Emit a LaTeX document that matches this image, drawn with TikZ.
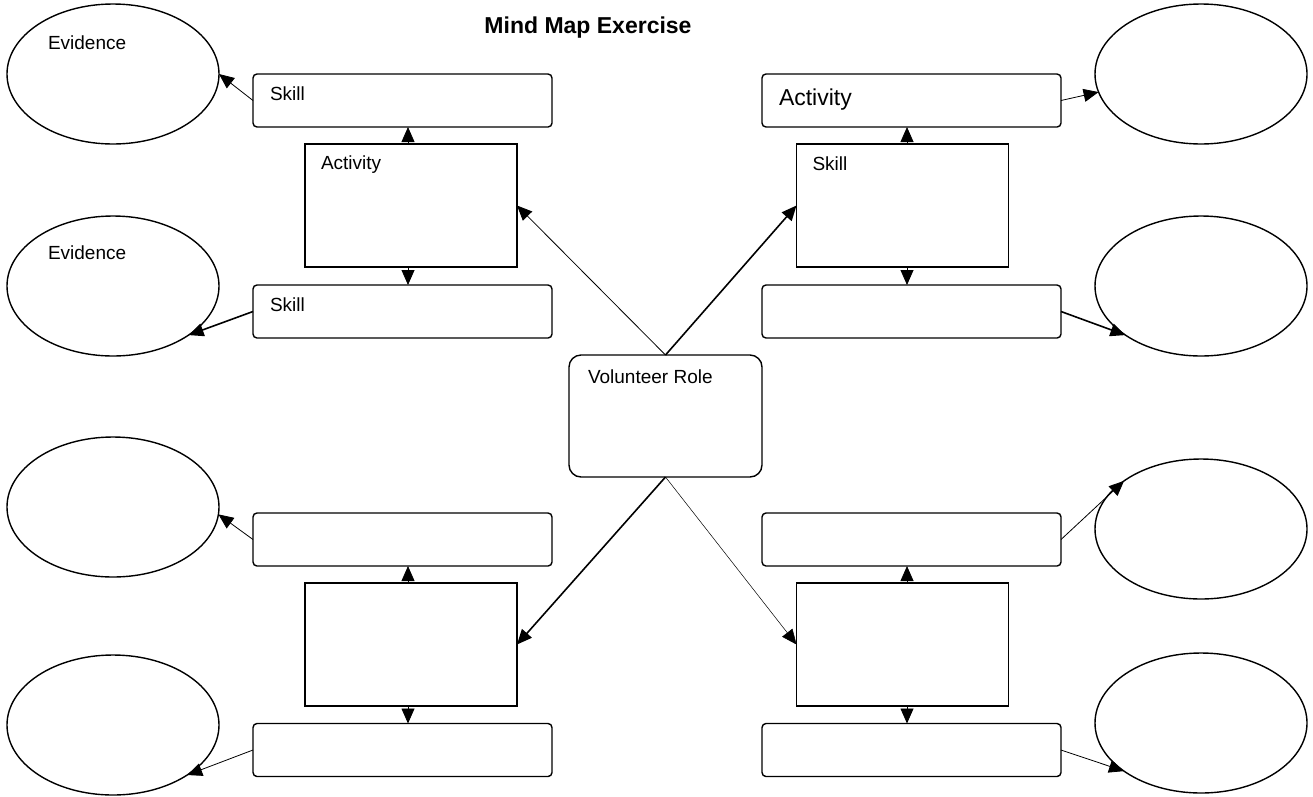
\documentclass[tikz,border=0pt]{standalone}
\usepackage{fontspec}
\setmainfont{Liberation Sans}
\usetikzlibrary{arrows.meta,shapes.geometric}
\begin{document}
\begin{tikzpicture}[x=1pt,y=-1pt,
  every node/.style={inner sep=0pt, outer sep=0pt},
  sbox/.style={draw, rounded corners=4pt, line width=1.4pt, minimum width=299pt, minimum height=53pt},
  arect/.style={draw, line width=1.6pt, minimum width=212pt, minimum height=123pt},
  ell/.style={draw, ellipse, line width=1.4pt, minimum width=212pt, minimum height=140pt},
  vrole/.style={draw, rounded corners=12pt, line width=1.4pt, minimum width=193pt, minimum height=122pt},
  txt/.style={font=\fontsize{19}{22}\selectfont, anchor=north west},
  bigtxt/.style={font=\fontsize{23}{26}\selectfont, anchor=north west},
  conn/.style={-{Triangle[length=15pt,width=13pt]}, line width=0.8pt},
  thick conn/.style={conn, line width=1.6pt},
  thin conn/.style={conn, line width=0.5pt}
]
\useasboundingbox (0,0) rectangle (1313,796);

\node[font=\fontsize{23}{26}\selectfont\bfseries, anchor=base] (title) at (588,33) {Mind Map Exercise};

% ellipses
\node[ell] (eTL) at (113,74) {};
\node[ell] (eL2) at (113,286) {};
\node[ell] (eL3) at (113,507) {};
\node[ell] (eL4) at (113,725) {};
\node[ell] (eTR) at (1201,74) {};
\node[ell] (eR2) at (1201,286) {};
\node[ell] (eR3) at (1201,529) {};
\node[ell] (eR4) at (1201,723) {};

% left top group
\node[sbox] (sTL) at (402.5,100.5) {};
\node[arect] (aL) at (411,205.5) {};
\node[sbox] (sL2) at (402.5,311.5) {};
% right top group
\node[sbox] (aTR) at (911.5,100.5) {};
\node[arect] (sR) at (902.5,205.5) {};
\node[sbox] (bR2) at (911.5,311.5) {};
% centre
\node[vrole] (vr) at (665.5,416) {};
% left bottom group
\node[sbox] (bL3) at (402.5,539.5) {};
\node[arect] (rL) at (411,644.5) {};
\node[sbox] (bL4) at (402.5,750) {};
% right bottom group
\node[sbox] (bR3) at (911.5,539.5) {};
\node[arect] (rR) at (902.5,644.5) {};
\node[sbox] (bR4) at (911.5,750) {};

% texts
\node[txt] (tEvTL) at ([xshift=-65pt,yshift=38pt]eTL.center) {Evidence};
\node[txt] (tEvL2) at ([xshift=-65pt,yshift=40pt]eL2.center) {Evidence};
\node[txt] (tSkTL) at ([xshift=17pt,yshift=-13pt]sTL.north west) {Skill};
\node[txt] (tAcL) at ([xshift=16pt,yshift=-12pt]aL.north west) {Activity};
\node[txt] (tSkL2) at ([xshift=17pt,yshift=-13pt]sL2.north west) {Skill};
\node[bigtxt] (tAcTR) at ([xshift=17pt,yshift=-15pt]aTR.north west) {Activity};
\node[txt] (tSkR) at ([xshift=16pt,yshift=-13pt]sR.north west) {Skill};
\node[txt] (tVR) at ([xshift=19pt,yshift=-15pt]vr.north west) {Volunteer Role};

% centre connectors
\draw[conn] (vr.north) -- (aL.east);
\draw[thick conn] (vr.north) -- (sR.west);
\draw[thick conn] (vr.south) -- (rL.east);
\draw[thin conn] (vr.south) -- (rR.west);

% vertical connectors
\draw[conn] ([xshift=-3pt]aL.north) -- ([xshift=-3pt]aL.north |- sTL.south);
\draw[conn] ([xshift=-3pt]aL.south) -- ([xshift=-3pt]aL.south |- sL2.north);
\draw[conn] ([xshift=4.5pt]sR.north) -- ([xshift=4.5pt]sR.north |- aTR.south);
\draw[conn] ([xshift=4.5pt]sR.south) -- ([xshift=4.5pt]sR.south |- bR2.north);
\draw[conn] ([xshift=-3pt]rL.north) -- ([xshift=-3pt]rL.north |- bL3.south);
\draw[conn] ([xshift=-3pt]rL.south) -- ([xshift=-3pt]rL.south |- bL4.north);
\draw[conn] ([xshift=4.5pt]rR.north) -- ([xshift=4.5pt]rR.north |- bR3.south);
\draw[conn] ([xshift=4.5pt]rR.south) -- ([xshift=4.5pt]rR.south |- bR4.north);

% box to ellipse connectors
\draw[conn] (sTL.west) -- (eTL.east);
\draw[thick conn] (sL2.west) -- (eL2.-33);
\draw[conn] (bL3.west) -- (eL3.-4);
\draw[conn] (bL4.west) -- (eL4.-34);
\draw[conn] (aTR.east) -- (eTR.190);
\draw[thick conn] (bR2.east) -- (eR2.213);
\draw[conn] (bR3.east) -- (eR3.148);
\draw[conn] (bR4.east) -- (eR4.212);
\end{tikzpicture}
\end{document}
